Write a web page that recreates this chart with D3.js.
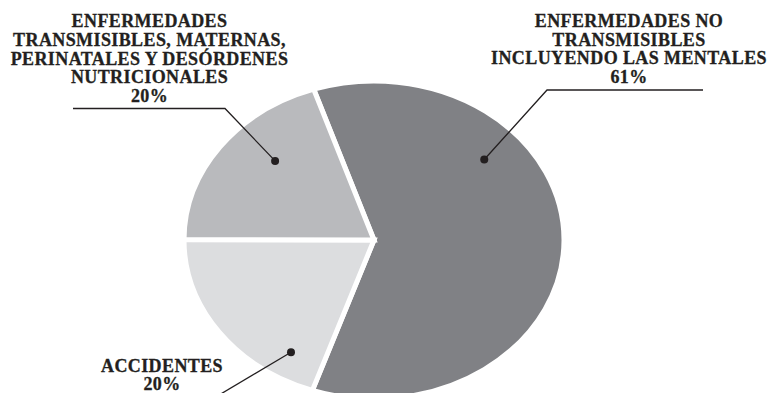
<!DOCTYPE html>
<html>
<head>
<meta charset="utf-8">
<script src="https://cdn.jsdelivr.net/npm/d3@7"></script>
<style>
  body { margin: 0; background: #fff; }
  text { font-family: 'Liberation Serif', 'Times New Roman', serif; font-weight: bold; font-size: 18px; letter-spacing: 0.4px; fill: #231f20; stroke: #231f20; stroke-width: 0.3px; }
</style>
</head>
<body>
<div id="pie-chart"></div>
<script>
// data
const categories = [
  'ENFERMEDADES NO TRANSMISIBLES INCLUYENDO LAS MENTALES',
  'ACCIDENTES',
  'ENFERMEDADES TRANSMISIBLES, MATERNAS, PERINATALES Y DESÓRDENES NUTRICIONALES'
]
const values = [61, 20, 20]
const labelLines = [
  ['ENFERMEDADES NO', 'TRANSMISIBLES', 'INCLUYENDO LAS MENTALES'],
  ['ACCIDENTES'],
  ['ENFERMEDADES', 'TRANSMISIBLES, MATERNAS,', 'PERINATALES Y DESÓRDENES', 'NUTRICIONALES']
]
const colors = ['#808185', '#dcdddf', '#b9babd']

// layout
const width = 771
const height = 393
const cx = 374
const cy = 240
const rx = 190
const ry = 159
const start = -18.5 * Math.PI / 180

// where the dot sits in each slice (t = fraction of the slice angle, f = fraction of radius)
// and where the leader line and text go
const callouts = [
  { t: 0.31, f: 0.77, path: [[547, 90], [703, 90]], text: [629, 27] },
  { t: 0.18, f: 0.83, path: [[214, 398]], text: [162, 371.5] },
  { t: 0.61, f: 0.72, path: [[225, 108.5], [73, 108.5]], text: [149.5, 27.3] }
]
const lineHeight = 18.6

const svg = d3
  .select('#pie-chart')
  .append('svg')
  .attr('width', width)
  .attr('height', height)

const pie = d3
  .pie()
  .sort(null)
  .value(d => d)
  .startAngle(start)
  .endAngle(start + 2 * Math.PI)

const arc = d3
  .arc()
  .innerRadius(0)
  .outerRadius(ry)

const arcs = pie(values)

// the pie is squashed into an ellipse
svg
  .append('g')
  .attr('transform', 'translate(' + cx + ',' + cy + ') scale(' + rx / ry + ',1)')
  .selectAll('path')
  .data(arcs)
  .enter()
  .append('path')
  .attr('d', arc)
  .attr('fill', (d, i) => colors[i])
  .attr('stroke', '#fff')
  .attr('stroke-width', 5)
  .attr('stroke-linejoin', 'miter')
  .attr('vector-effect', 'non-scaling-stroke')

function dotPosition(d, i) {
  const c = callouts[i]
  const a = d.startAngle + c.t * (d.endAngle - d.startAngle)
  return [cx + c.f * rx * Math.sin(a), cy - c.f * ry * Math.cos(a)]
}

// leader lines
svg
  .selectAll('.leader')
  .data(arcs)
  .enter()
  .append('path')
  .attr('class', 'leader')
  .attr('d', (d, i) => d3.line()([dotPosition(d, i)].concat(callouts[i].path)))
  .attr('fill', 'none')
  .attr('stroke', '#231f20')
  .attr('stroke-width', 1.3)

svg
  .selectAll('.dot')
  .data(arcs)
  .enter()
  .append('circle')
  .attr('class', 'dot')
  .attr('cx', (d, i) => dotPosition(d, i)[0])
  .attr('cy', (d, i) => dotPosition(d, i)[1])
  .attr('r', 4)
  .attr('fill', '#231f20')

// labels
const labels = svg
  .selectAll('.label')
  .data(arcs)
  .enter()
  .append('text')
  .attr('class', 'label')
  .attr('text-anchor', 'middle')

labels.each(function(d, i) {
  const lines = labelLines[i].concat([values[i] + '%'])
  const [x, y] = callouts[i].text
  d3.select(this)
    .selectAll('tspan')
    .data(lines)
    .enter()
    .append('tspan')
    .attr('x', x)
    .attr('y', (l, j) => y + j * lineHeight)
    .text(l => l)
})
</script>
</body>
</html>
